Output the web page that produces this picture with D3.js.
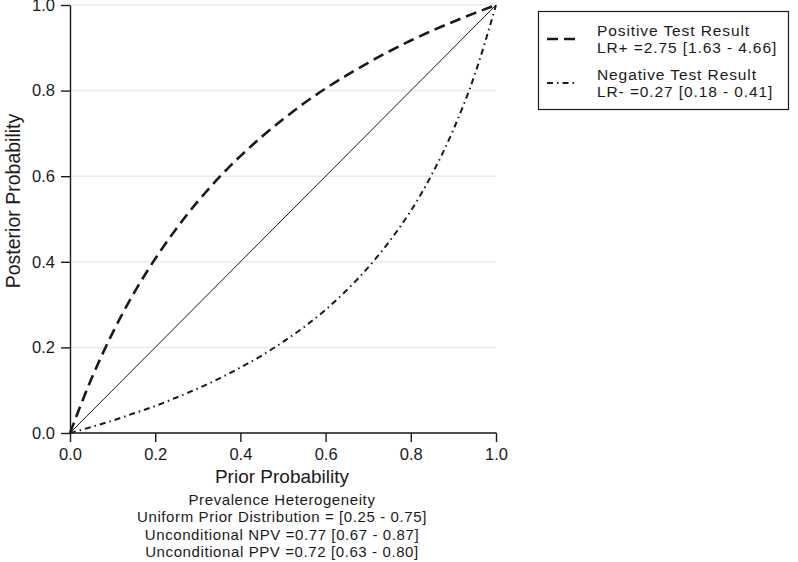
<!DOCTYPE html>
<html>
<head>
<meta charset="utf-8">
<script src="https://cdn.jsdelivr.net/npm/d3@7"></script>
<style>
  body { margin: 0; background: #fff; }
  text { font-family: "Liberation Sans", Arial, sans-serif; fill: #1a1a1a; }
</style>
</head>
<body>
<svg id="fagan" width="798" height="562"></svg>
<script>
// prior probability grid and the posterior values
var prior = [0, 0.05, 0.1, 0.15, 0.2, 0.25, 0.3, 0.35, 0.4, 0.45, 0.5,
             0.55, 0.6, 0.65, 0.7, 0.75, 0.8, 0.85, 0.9, 0.95, 1];
var postPositive = [0, 0.126, 0.234, 0.327, 0.407, 0.478, 0.541, 0.597, 0.647, 0.692, 0.733,
                    0.771, 0.805, 0.836, 0.865, 0.892, 0.917, 0.940, 0.961, 0.981, 1];
var postNegative = [0, 0.014, 0.029, 0.046, 0.063, 0.083, 0.104, 0.127, 0.153, 0.181, 0.213,
                    0.248, 0.288, 0.334, 0.387, 0.448, 0.519, 0.605, 0.709, 0.837, 1];
var diagonal = [0, 1];

var ticks = [0, 0.2, 0.4, 0.6, 0.8, 1.0];
var legendLines = [
    ["Positive Test Result", "LR+ =2.75 [1.63 - 4.66]"],
    ["Negative Test Result", "LR- =0.27 [0.18 - 0.41]"]
];
var notes = [
    "Prevalence Heterogeneity",
    "Uniform Prior Distribution = [0.25 - 0.75]",
    "Unconditional NPV =0.77 [0.67 - 0.87]",
    "Unconditional PPV =0.72 [0.63 - 0.80]"
];

var svg = d3.select("svg#fagan"),
    margin = {top: 5, left: 70},
    width = 426,
    height = 428,
    g = svg.append("g").attr("transform", "translate(" + margin.left + "," + margin.top + ")");

var x = d3.scaleLinear().domain([0, 1]).range([0, width]);
var y = d3.scaleLinear().domain([0, 1]).range([height, 0]);

// horizontal grid
g.selectAll(".grid")
    .data(ticks)
    .enter().append("line")
    .attr("x1", 0).attr("x2", width)
    .attr("y1", function(d) { return y(d); })
    .attr("y2", function(d) { return y(d); })
    .attr("stroke", "#eaeaea")
    .attr("stroke-width", 1.5);

var line = d3.line()
    .x(function(d) { return x(d[0]); })
    .y(function(d) { return y(d[1]); })
    .curve(d3.curveMonotoneX);

g.append("path")
    .datum(diagonal.map(function(v) { return [v, v]; }))
    .attr("d", line)
    .attr("fill", "none")
    .attr("stroke", "#1a1a1a")
    .attr("stroke-width", 1);

g.append("path")
    .datum(prior.map(function(p, i) { return [p, postPositive[i]]; }))
    .attr("d", line)
    .attr("fill", "none")
    .attr("stroke", "#1a1a1a")
    .attr("stroke-width", 2.6)
    .attr("stroke-dasharray", "11,6");

g.append("path")
    .datum(prior.map(function(p, i) { return [p, postNegative[i]]; }))
    .attr("d", line)
    .attr("fill", "none")
    .attr("stroke", "#1a1a1a")
    .attr("stroke-width", 2)
    .attr("stroke-dasharray", "6,4,1.5,4");

// axes
var xAxis = g.append("g")
    .attr("transform", "translate(0," + height + ")")
    .call(d3.axisBottom(x).tickValues(ticks).tickFormat(d3.format(".1f")).tickSize(9).tickPadding(6));
var yAxis = g.append("g")
    .call(d3.axisLeft(y).tickValues(ticks).tickFormat(d3.format(".1f")).tickSize(9).tickPadding(6));

[xAxis, yAxis].forEach(function(a) {
    a.select(".domain").attr("stroke", "#1a1a1a").attr("stroke-width", 1.4);
    a.selectAll(".tick line").attr("stroke", "#1a1a1a").attr("stroke-width", 1.4);
    a.selectAll(".tick text")
        .style("font-family", "'Liberation Sans', Arial, sans-serif")
        .style("font-size", "16.5px")
        .attr("fill", "#1a1a1a");
});
xAxis.selectAll(".domain").attr("d", "M0.5,0H" + (width + 0.5));
yAxis.selectAll(".domain").attr("d", "M0.5," + (height + 0.5) + "V0.5");

svg.append("text")
    .attr("x", margin.left + width / 2 - 1)
    .attr("y", 483)
    .attr("text-anchor", "middle")
    .style("font-size", "19px")
    .text("Prior Probability");

svg.append("text")
    .attr("transform", "translate(20,201) rotate(-90)")
    .attr("text-anchor", "middle")
    .style("font-size", "19.5px")
    .text("Posterior Probability");

// note block under the x axis
svg.selectAll(".note")
    .data(notes)
    .enter().append("text")
    .attr("class", "note")
    .attr("x", margin.left + width / 2 - 1)
    .attr("y", function(d, i) { return 505 + i * 17.4; })
    .attr("text-anchor", "middle")
    .style("font-size", "15px")
    .style("letter-spacing", "0.6px")
    .text(function(d) { return d; });

// legend
var legend = svg.append("g").attr("transform", "translate(538,11)");
legend.append("rect")
    .attr("x", 0.5).attr("y", 0.5)
    .attr("width", 250).attr("height", 98)
    .attr("fill", "#fff")
    .attr("stroke", "#1a1a1a")
    .attr("stroke-width", 1.2);

var dashes = ["11,6", "6,4,1.5,4"];
var widths = [2.6, 2];
legendLines.forEach(function(lines, i) {
    var top = 24.5 + i * 44;
    legend.append("line")
        .attr("x1", 9).attr("x2", 40)
        .attr("y1", top + 3.5).attr("y2", top + 3.5)
        .attr("stroke", "#1a1a1a")
        .attr("stroke-width", widths[i])
        .attr("stroke-dasharray", dashes[i]);
    lines.forEach(function(t, j) {
        legend.append("text")
            .attr("x", 59)
            .attr("y", top + j * 17.4)
            .style("font-size", "15.5px")
            .style("letter-spacing", "0.9px")
            .text(t);
    });
});
</script>
</body>
</html>
